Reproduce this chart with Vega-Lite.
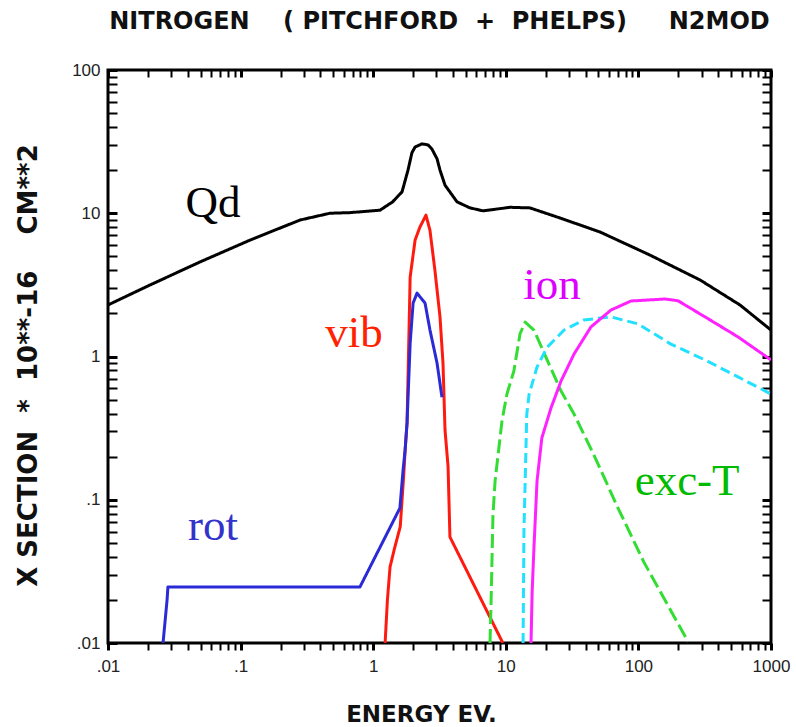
{
  "$schema": "https://vega.github.io/schema/vega-lite/v6.json",
  "width": 663,
  "height": 573,
  "autosize": {"type": "none"},
  "padding": {"left": 108, "top": 70, "right": 25, "bottom": 84},
  "background": "white",
  "title": {
    "text": "NITROGEN\u00a0\u00a0\u00a0\u00a0(\u00a0PITCHFORD\u00a0\u00a0+\u00a0\u00a0PHELPS)\u00a0\u00a0\u00a0\u00a0\u00a0N2MOD",
    "font": "DejaVu Sans",
    "fontSize": 24,
    "fontWeight": "bold",
    "color": "#111",
    "anchor": "middle",
    "offset": 27
  },
  "config": {
    "view": {"stroke": "black", "strokeWidth": 3},
    "axis": {
      "grid": false,
      "domain": false,
      "tickColor": "black",
      "tickWidth": 2,
      "labelFlush": false,
      "labelFont": "Liberation Sans",
      "labelFontSize": 17,
      "labelColor": "#222",
      "titleFont": "DejaVu Sans",
      "titleFontWeight": "bold",
      "titleColor": "#111"
    }
  },
  "datasets": {
    "curves": [
      {"series": "Qd", "i": 0, "E": 0.01, "s": 2.29},
      {"series": "Qd", "i": 1, "E": 0.0208, "s": 3.16},
      {"series": "Qd", "i": 2, "E": 0.0494, "s": 4.57},
      {"series": "Qd", "i": 3, "E": 0.118, "s": 6.5},
      {"series": "Qd", "i": 4, "E": 0.281, "s": 8.97},
      {"series": "Qd", "i": 5, "E": 0.472, "s": 10.0},
      {"series": "Qd", "i": 6, "E": 0.668, "s": 10.1},
      {"series": "Qd", "i": 7, "E": 1.125, "s": 10.5},
      {"series": "Qd", "i": 8, "E": 1.4, "s": 12.0},
      {"series": "Qd", "i": 9, "E": 1.65, "s": 14.1},
      {"series": "Qd", "i": 10, "E": 1.83, "s": 20.0},
      {"series": "Qd", "i": 11, "E": 1.96, "s": 26.5},
      {"series": "Qd", "i": 12, "E": 2.07, "s": 29.0},
      {"series": "Qd", "i": 13, "E": 2.33, "s": 30.5},
      {"series": "Qd", "i": 14, "E": 2.59, "s": 30.0},
      {"series": "Qd", "i": 15, "E": 2.77, "s": 28.1},
      {"series": "Qd", "i": 16, "E": 3.03, "s": 24.0},
      {"series": "Qd", "i": 17, "E": 3.19, "s": 20.0},
      {"series": "Qd", "i": 18, "E": 3.48, "s": 15.7},
      {"series": "Qd", "i": 19, "E": 4.29, "s": 12.0},
      {"series": "Qd", "i": 20, "E": 5.37, "s": 10.9},
      {"series": "Qd", "i": 21, "E": 6.73, "s": 10.4},
      {"series": "Qd", "i": 22, "E": 10.8, "s": 11.0},
      {"series": "Qd", "i": 23, "E": 15.2, "s": 10.9},
      {"series": "Qd", "i": 24, "E": 25.6, "s": 9.27},
      {"series": "Qd", "i": 25, "E": 51.3, "s": 7.4},
      {"series": "Qd", "i": 26, "E": 122, "s": 5.11},
      {"series": "Qd", "i": 27, "E": 292, "s": 3.42},
      {"series": "Qd", "i": 28, "E": 583, "s": 2.29},
      {"series": "Qd", "i": 29, "E": 1000, "s": 1.53},

      {"series": "vib", "i": 0, "E": 1.23, "s": 0.01},
      {"series": "vib", "i": 1, "E": 1.28, "s": 0.02},
      {"series": "vib", "i": 2, "E": 1.34, "s": 0.034},
      {"series": "vib", "i": 3, "E": 1.45, "s": 0.046},
      {"series": "vib", "i": 4, "E": 1.6, "s": 0.065},
      {"series": "vib", "i": 5, "E": 1.7, "s": 0.15},
      {"series": "vib", "i": 6, "E": 1.74, "s": 0.22},
      {"series": "vib", "i": 7, "E": 1.8, "s": 0.344},
      {"series": "vib", "i": 8, "E": 1.9, "s": 3.59},
      {"series": "vib", "i": 9, "E": 2.07, "s": 6.5},
      {"series": "vib", "i": 10, "E": 2.25, "s": 8.0},
      {"series": "vib", "i": 11, "E": 2.5, "s": 9.7},
      {"series": "vib", "i": 12, "E": 2.68, "s": 7.6},
      {"series": "vib", "i": 13, "E": 2.92, "s": 4.0},
      {"series": "vib", "i": 14, "E": 3.19, "s": 1.89},
      {"series": "vib", "i": 15, "E": 3.36, "s": 0.9},
      {"series": "vib", "i": 16, "E": 3.48, "s": 0.307},
      {"series": "vib", "i": 17, "E": 3.67, "s": 0.17},
      {"series": "vib", "i": 18, "E": 3.79, "s": 0.055},
      {"series": "vib", "i": 19, "E": 9.5, "s": 0.01},

      {"series": "rot", "i": 0, "E": 0.026, "s": 0.01},
      {"series": "rot", "i": 1, "E": 0.0279, "s": 0.02},
      {"series": "rot", "i": 2, "E": 0.0283, "s": 0.0246},
      {"series": "rot", "i": 3, "E": 0.794, "s": 0.0246},
      {"series": "rot", "i": 4, "E": 1.59, "s": 0.0875},
      {"series": "rot", "i": 5, "E": 1.68, "s": 0.161},
      {"series": "rot", "i": 6, "E": 1.74, "s": 0.222},
      {"series": "rot", "i": 7, "E": 1.8, "s": 0.344},
      {"series": "rot", "i": 8, "E": 1.9, "s": 1.24},
      {"series": "rot", "i": 9, "E": 2.0, "s": 2.36},
      {"series": "rot", "i": 10, "E": 2.14, "s": 2.77},
      {"series": "rot", "i": 11, "E": 2.46, "s": 2.36},
      {"series": "rot", "i": 12, "E": 2.68, "s": 1.53},
      {"series": "rot", "i": 13, "E": 3.03, "s": 0.9},
      {"series": "rot", "i": 14, "E": 3.3, "s": 0.52},

      {"series": "exc", "i": 0, "E": 7.6, "s": 0.01},
      {"series": "exc", "i": 1, "E": 7.73, "s": 0.0178},
      {"series": "exc", "i": 2, "E": 8.0, "s": 0.078},
      {"series": "exc", "i": 3, "E": 8.3, "s": 0.135},
      {"series": "exc", "i": 4, "E": 9.36, "s": 0.355},
      {"series": "exc", "i": 5, "E": 10.2, "s": 0.547},
      {"series": "exc", "i": 6, "E": 11.5, "s": 0.79},
      {"series": "exc", "i": 7, "E": 12.8, "s": 1.44},
      {"series": "exc", "i": 8, "E": 14.0, "s": 1.74},
      {"series": "exc", "i": 9, "E": 16.3, "s": 1.53},
      {"series": "exc", "i": 10, "E": 20.5, "s": 0.946},
      {"series": "exc", "i": 11, "E": 26.1, "s": 0.574},
      {"series": "exc", "i": 12, "E": 32.7, "s": 0.397},
      {"series": "exc", "i": 13, "E": 46.2, "s": 0.205},
      {"series": "exc", "i": 14, "E": 70.2, "s": 0.0875},
      {"series": "exc", "i": 15, "E": 110, "s": 0.0367},
      {"series": "exc", "i": 16, "E": 237, "s": 0.0102},

      {"series": "cyan", "i": 0, "E": 13.5, "s": 0.01},
      {"series": "cyan", "i": 1, "E": 13.7, "s": 0.0596},
      {"series": "cyan", "i": 2, "E": 14.4, "s": 0.397},
      {"series": "cyan", "i": 3, "E": 15.0, "s": 0.547},
      {"series": "cyan", "i": 4, "E": 17.2, "s": 0.845},
      {"series": "cyan", "i": 5, "E": 20.5, "s": 1.16},
      {"series": "cyan", "i": 6, "E": 27.5, "s": 1.53},
      {"series": "cyan", "i": 7, "E": 38.9, "s": 1.8},
      {"series": "cyan", "i": 8, "E": 62.1, "s": 1.89},
      {"series": "cyan", "i": 9, "E": 99.3, "s": 1.69},
      {"series": "cyan", "i": 10, "E": 176, "s": 1.22},
      {"series": "cyan", "i": 11, "E": 318, "s": 0.946},
      {"series": "cyan", "i": 12, "E": 564, "s": 0.72},
      {"series": "cyan", "i": 13, "E": 1000, "s": 0.547},

      {"series": "ion", "i": 0, "E": 15.5, "s": 0.01},
      {"series": "ion", "i": 1, "E": 15.8, "s": 0.0227},
      {"series": "ion", "i": 2, "E": 16.3, "s": 0.046},
      {"series": "ion", "i": 3, "E": 17.2, "s": 0.135},
      {"series": "ion", "i": 4, "E": 18.7, "s": 0.27},
      {"series": "ion", "i": 5, "E": 21.9, "s": 0.436},
      {"series": "ion", "i": 6, "E": 26.1, "s": 0.675},
      {"series": "ion", "i": 7, "E": 32.7, "s": 1.04},
      {"series": "ion", "i": 8, "E": 43.9, "s": 1.61},
      {"series": "ion", "i": 9, "E": 62.1, "s": 2.11},
      {"series": "ion", "i": 10, "E": 87.9, "s": 2.44},
      {"series": "ion", "i": 11, "E": 159, "s": 2.52},
      {"series": "ion", "i": 12, "E": 199, "s": 2.45},
      {"series": "ion", "i": 13, "E": 318, "s": 1.89},
      {"series": "ion", "i": 14, "E": 564, "s": 1.37},
      {"series": "ion", "i": 15, "E": 1000, "s": 0.946}
    ],
    "labels": [
      {"label": "Qd", "E": 0.062, "s": 9.41},
      {"label": "vib", "E": 0.716, "s": 1.165},
      {"label": "ion", "E": 22.3, "s": 2.52},
      {"label": "rot", "E": 0.062, "s": 0.0524},
      {"label": "exc-T", "E": 233, "s": 0.108}
    ]
  },
  "layer": [
    {
      "data": {"name": "curves"},
      "mark": {"type": "line", "clip": true, "strokeJoin": "round"},
      "encoding": {
        "x": {
          "field": "E", "type": "quantitative",
          "scale": {"type": "log", "domain": [0.01, 1000], "nice": false},
          "axis": {
            "orient": "bottom",
            "title": "ENERGY EV.",
            "titleFontSize": 23,
            "titleX": 313,
            "titleY": 60,
            "titleBaseline": "top",
            "values": [0.01,0.02,0.03,0.04,0.05,0.06,0.07,0.08,0.09,0.1,0.2,0.3,0.4,0.5,0.6,0.7,0.8,0.9,1,2,3,4,5,6,7,8,9,10,20,30,40,50,60,70,80,90,100,200,300,400,500,600,700,800,900,1000],
            "labelExpr": "datum.value==0.01?'.01':datum.value==0.1?'.1':datum.value==1?'1':datum.value==10?'10':datum.value==100?'100':datum.value==1000?'1000':''",
            "labelOverlap": false,
            "labelPadding": 8,
            "tickSize": 7,
            "tickWidth": {"condition": {"test": "indexof([0.01,0.1,1,10,100,1000], datum.value) >= 0", "value": 3}, "value": 2}
          }
        },
        "y": {
          "field": "s", "type": "quantitative",
          "scale": {"type": "log", "domain": [0.01, 100], "nice": false},
          "axis": {
            "orient": "left",
            "offset": -9,
            "title": "X\u00a0SECTION\u00a0\u00a0*\u00a0\u00a010**-16\u00a0\u00a0\u00a0\u00a0CM**2",
            "titleFontSize": 26,
            "titleAngle": -90,
            "titleAlign": "center",
            "titleBaseline": "middle",
            "titleX": -89,
            "titleY": 295,
            "values": [0.01,0.02,0.03,0.04,0.05,0.06,0.07,0.08,0.09,0.1,0.2,0.3,0.4,0.5,0.6,0.7,0.8,0.9,1,2,3,4,5,6,7,8,9,10,20,30,40,50,60,70,80,90,100],
            "labelExpr": "datum.value==0.01?'.01':datum.value==0.1?'.1':datum.value==1?'1':datum.value==10?'10':datum.value==100?'100':''",
            "labelOverlap": false,
            "labelPadding": 8,
            "tickSize": 9,
            "tickWidth": {"condition": {"test": "indexof([0.01,0.1,1,10,100], datum.value) >= 0", "value": 3}, "value": 2}
          }
        },
        "color": {
          "field": "series", "type": "nominal", "legend": null,
          "scale": {"domain": ["Qd", "vib", "rot", "exc", "cyan", "ion"], "range": ["#000000", "#ff1a10", "#2a2ad6", "#33dd33", "#22e0ff", "#ff22ff"]}
        },
        "strokeDash": {
          "field": "series", "type": "nominal", "legend": null,
          "scale": {"domain": ["Qd", "vib", "rot", "exc", "cyan", "ion"], "range": [[1, 0], [1, 0], [1, 0], [14, 5], [10, 5], [1, 0]]}
        },
        "strokeWidth": {
          "field": "series", "type": "ordinal", "legend": null,
          "scale": {"domain": ["Qd", "vib", "rot", "exc", "cyan", "ion"], "range": [3, 3, 3, 3, 2, 3]}
        },
        "order": {"field": "i", "type": "quantitative"}
      }
    },
    {
      "data": {"name": "labels"},
      "mark": {"type": "text", "font": "Liberation Serif", "fontSize": 45, "align": "center", "baseline": "alphabetic"},
      "encoding": {
        "x": {
          "field": "E", "type": "quantitative",
          "scale": {"type": "log", "domain": [0.01, 1000], "nice": false},
          "axis": {
            "orient": "top", "title": null, "labels": false,
            "offset": -7,
            "values": [0.01,0.02,0.03,0.04,0.05,0.06,0.07,0.08,0.09,0.1,0.2,0.3,0.4,0.5,0.6,0.7,0.8,0.9,1,2,3,4,5,6,7,8,9,10,20,30,40,50,60,70,80,90,100,200,300,400,500,600,700,800,900,1000],
            "tickSize": 7,
            "tickWidth": {"condition": {"test": "indexof([0.01,0.1,1,10,100,1000], datum.value) >= 0", "value": 3}, "value": 2}
          }
        },
        "y": {
          "field": "s", "type": "quantitative",
          "scale": {"type": "log", "domain": [0.01, 100], "nice": false},
          "axis": {
            "orient": "right", "title": null, "labels": false,
            "offset": -9,
            "values": [0.01,0.02,0.03,0.04,0.05,0.06,0.07,0.08,0.09,0.1,0.2,0.3,0.4,0.5,0.6,0.7,0.8,0.9,1,2,3,4,5,6,7,8,9,10,20,30,40,50,60,70,80,90,100],
            "tickSize": 9,
            "tickWidth": {"condition": {"test": "indexof([0.01,0.1,1,10,100], datum.value) >= 0", "value": 3}, "value": 2}
          }
        },
        "text": {"field": "label", "type": "nominal"},
        "color": {
          "field": "label", "type": "nominal", "legend": null,
          "scale": {"domain": ["Qd", "vib", "ion", "rot", "exc-T"], "range": ["#000000", "#ff2200", "#dd00ff", "#3333cc", "#00bb00"]}
        }
      }
    }
  ],
  "resolve": {"scale": {"x": "independent", "y": "independent", "color": "independent"}}
}
